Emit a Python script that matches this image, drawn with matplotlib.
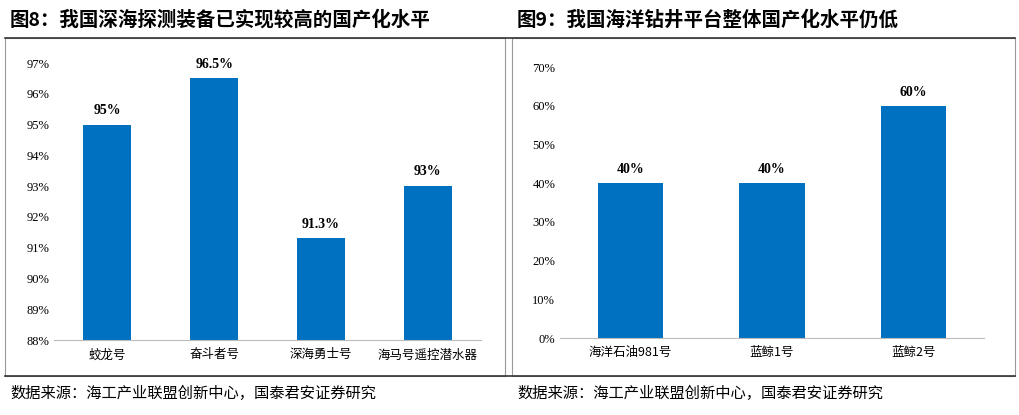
import matplotlib
matplotlib.use("Agg")
import matplotlib.pyplot as plt
from matplotlib.patches import Rectangle
from matplotlib.lines import Line2D

cats1 = ["蛟龙号", "奋斗者号", "深海勇士号", "海马号遥控潜水器"]
vals1 = [95, 96.5, 91.3, 93]
labels1 = ["95%", "96.5%", "91.3%", "93%"]
yt1 = list(range(88, 98))

cats2 = ["海洋石油981号", "蓝鲸1号", "蓝鲸2号"]
vals2 = [40, 40, 60]
labels2 = ["40%", "40%", "60%"]
yt2 = list(range(0, 71, 10))

CJK = "Noto Sans CJK SC"
SER = "Liberation Serif"
BLUE = "#0070C0"
W, H = 1020, 415
fig = plt.figure(figsize=(W/100, H/100), dpi=100)

def ax_px(l, t, r, b):
    return fig.add_axes([l/W, 1-b/H, (r-l)/W, (b-t)/H])

fig.text(10/W, 1-20/H, "图8：我国深海探测装备已实现较高的国产化水平", fontfamily=CJK, fontsize=14, fontweight="bold", va="center")
fig.text(517/W, 1-20/H, "图9：我国海洋钻井平台整体国产化水平仍低", fontfamily=CJK, fontsize=14, fontweight="bold", va="center")
fig.text(10/W, 1-393/H, "数据来源：海工产业联盟创新中心，国泰君安证券研究", fontfamily=CJK, fontsize=11, va="center")
fig.text(517/W, 1-393/H, "数据来源：海工产业联盟创新中心，国泰君安证券研究", fontfamily=CJK, fontsize=11, va="center")
for y in (38, 376):
    fig.add_artist(Line2D([5/W, 1015/W], [1-y/H]*2, color="#333333", lw=1.2))
fig.add_artist(Rectangle((5/W, 1-376/H), 500/W, 338/H, fill=False, ec="#999999", lw=0.8))
fig.add_artist(Rectangle((512/W, 1-376/H), 503/W, 338/H, fill=False, ec="#999999", lw=0.8))

def style(ax):
    for s in ("top", "right", "left"):
        ax.spines[s].set_visible(False)
    ax.spines["bottom"].set_color("#bbbbbb")
    ax.tick_params(axis="both", length=0, labelsize=9)
    ax.tick_params(axis="x", pad=6)
    for t in ax.get_yticklabels():
        t.set_fontfamily(SER)
    for t in ax.get_xticklabels():
        t.set_fontfamily(CJK); t.set_fontsize(9)

ax1 = ax_px(54, 63, 481, 340)
x1 = range(len(cats1))
ax1.bar(x1, [v-88 for v in vals1], bottom=88, width=0.45, color=BLUE)
ax1.set_ylim(88, 97); ax1.set_xlim(-0.5, 3.5)
ax1.set_yticks(yt1); ax1.set_yticklabels([f"{v}%" for v in yt1])
ax1.set_xticks(list(x1)); ax1.set_xticklabels(cats1)
for i, (v, l) in enumerate(zip(vals1, labels1)):
    ax1.text(i, v+0.25, l, ha="center", va="bottom", fontfamily=SER, fontweight="bold", fontsize=10)
style(ax1)

ax2 = ax_px(560, 67, 984, 338)
x2 = range(len(cats2))
ax2.bar(x2, vals2, width=0.46, color=BLUE)
ax2.set_ylim(0, 70); ax2.set_xlim(-0.5, 2.5)
ax2.set_yticks(yt2); ax2.set_yticklabels([f"{v}%" for v in yt2])
ax2.set_xticks(list(x2)); ax2.set_xticklabels(cats2)
for i, (v, l) in enumerate(zip(vals2, labels2)):
    ax2.text(i, v+1.8, l, ha="center", va="bottom", fontfamily=SER, fontweight="bold", fontsize=10)
style(ax2)

fig.savefig("out.png", dpi=100)
